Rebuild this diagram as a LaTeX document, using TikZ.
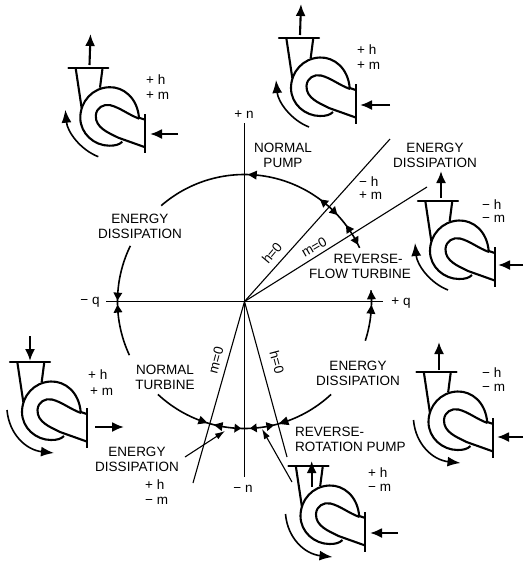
\documentclass[tikz,border=0pt]{standalone}
\usepackage{fontspec}
\setmainfont{Liberation Sans}
\usetikzlibrary{arrows.meta}
\tikzset{
  x=1pt,y=-1pt,
  lab/.style={inner sep=0pt,align=center,font=\fontsize{13.5}{15}\selectfont},
  sgn/.style={inner sep=0pt,anchor=west,font=\fontsize{13.5}{15}\selectfont},
  thinline/.style={line width=1.1pt},
  wheel/.style={line width=1.6pt},
  heavy/.style={line width=2.1pt},
  flowarrow/.style={line width=2.1pt,-{Latex[length=12pt,width=10pt]}},
  turnarrow/.style={line width=1.6pt,-{Latex[length=13pt,width=10pt]}},
  pointer/.style={line width=1.1pt,-{Latex[length=10pt,width=6.5pt]}},
  pump/.pic={
    \draw[heavy,line cap=round] (-20,0) -- (20,0);
    \draw[heavy] (-12.7,0) -- (-6.7,40);
    \draw[heavy] (14.3,0) -- (11.7,20);
    \draw[heavy,line join=round] (56.7,52) -- (50.7,50)
      .. controls (49,30) and (35,19) .. (21,19.5)
      .. controls (4,20) and (-8,34) .. (-8,50)
      .. controls (-8,66) and (6,78) .. (21,78)
      .. controls (27,78) and (31,77) .. (34,74);
    \draw[heavy] (56.7,79.5) -- (30,70)
      .. controls (20,65) and (7,60) .. (7.5,48)
      .. controls (8,40) and (15,36) .. (22,37.5)
      .. controls (32,40) and (40,47) .. (51,51);
    \draw[heavy] (56.7,46.3) -- (56.7,85.7);
  },
  uparc/.pic={
    \draw[turnarrow] (10,89) .. controls (-8,82) and (-21,64) .. (-23,42);
  },
  downarc/.pic={
    \draw[turnarrow] (-23,48) .. controls (-21,72) and (-4,88) .. (24,91);
  }
}
\newcommand{\archead}[2]{% base angle, tip angle
  \fill (#2:127) -- (#1:131.5) -- (#1:122.5) -- cycle;}
\begin{document}
\begin{tikzpicture}
\useasboundingbox (0,0) rectangle (523,563);
% ---- axes and sector lines
\coordinate (O) at (244.5,301.5);
\coordinate (nt) at (244.5,123); \coordinate (nb) at (244.5,477);
\coordinate (ql) at (106,301.5); \coordinate (qr) at (383,301.5);
\coordinate (hu) at (390,139); \coordinate (mu) at (427,187);
\coordinate (hd) at (287,457); \coordinate (md) at (193,483);
\draw[thinline] (nt) -- (nb);
\draw[thinline] (ql) -- (qr);
\draw[thinline] (hd) -- (O) -- (hu);
\draw[thinline] (md) -- (O) -- (mu);
% ---- circle
\begin{scope}[shift={(O)}]
\draw[wheel] plot[domain=-90:-131,samples=40] (\x:127);
\draw[wheel] plot[domain=-154:-205,samples=40] (\x:127);
\draw[wheel] plot[domain=133:47,samples=60] (\x:127);
\draw[wheel] plot[domain=18:-5,samples=20] (\x:127);
\draw[wheel] plot[domain=-90:-25,samples=50] (\x:127);
\archead{-84.5}{-88.5}
\archead{-50}{-53.5}
\archead{-46.5}{-43}
\archead{-33.5}{-37}
\archead{-30}{-26.5}
\archead{-1}{-5}
\archead{5.5}{1.5}
\archead{184}{180.5}
\archead{175}{178.5}
\archead{111}{107}
\archead{100}{104}
\archead{94.5}{91.5}
\archead{84.5}{87.5}
\archead{80}{76.5}
\archead{70}{74.5}
\end{scope}
% ---- labels on the diagram
\node[lab] (lpn) at (244,115) {+ n};
\node[lab] (lmn) at (243,489) {− n};
\node[lab] (lmq) at (90,302) {− q};
\node[lab] (lpq) at (401,303) {+ q};
\node[lab] (normalpump) at (283,155) {NORMAL\\PUMP};
\node[lab] (ed1) at (435,155) {ENERGY\\DISSIPATION};
\node[lab] (ed2) at (140,226) {ENERGY\\DISSIPATION};
\node[lab] (ed3) at (358,373) {ENERGY\\DISSIPATION};
\node[lab] (ed4) at (137,459) {ENERGY\\DISSIPATION};
\node[lab] (rft) at (360,266) {\hspace*{1.2em}REVERSE-\\FLOW TURBINE};
\node[lab] (nturb) at (165,377) {NORMAL\\TURBINE};
\node[lab,align=left,anchor=north west] (rrp) at (295,427) {REVERSE-\\ROTATION PUMP};
\node[lab,rotate=50] (h1) at (272,253) {h=0};
\node[lab,rotate=30] (m1) at (314,247) {m=0};
\node[lab,rotate=75] (m2) at (216,360) {m=0};
\node[lab,rotate=-75] (h2) at (277,362) {h=0};
\node[sgn] (s1a) at (359,182) {− h};
\node[sgn] (s1b) at (359,196) {+ m};
\node[sgn] (s2a) at (145,485) {+ h};
\node[sgn] (s2b) at (145,501) {− m};
% ---- pointers
\coordinate (ptA) at (185,457); \coordinate (ptAe) at (225,431);
\coordinate (ptB) at (292,482); \coordinate (ptBe) at (262,429);
\draw[pointer] (ptA) -- (ptAe);
\draw[pointer] (ptB) -- (ptBe);
% ---- pump 1 top left
\pic (p1) at (88.3,67.7) {pump};
\pic (r1) at (88.3,67.7) {uparc};
\coordinate (a1) at (89.5,65); \coordinate (a1e) at (90.5,34);
\coordinate (b1) at (178,134); \coordinate (b1e) at (150,134);
\draw[flowarrow] (a1) -- (a1e);
\draw[flowarrow] (b1) -- (b1e);
\node[sgn] (s3a) at (146,80) {+ h};
\node[sgn] (s3b) at (146,96) {+ m};
% ---- pump 2 top middle
\pic (p2) at (299,38) {pump};
\pic (r2) at (299,38) {uparc};
\coordinate (a2) at (300,35); \coordinate (a2e) at (301,4);
\coordinate (b2) at (390,105); \coordinate (b2e) at (360,105);
\draw[flowarrow] (a2) -- (a2e);
\draw[flowarrow] (b2) -- (b2e);
\node[sgn] (s4a) at (357,50) {+ h};
\node[sgn] (s4b) at (357,66) {+ m};
% ---- pump 3 right upper
\pic (p3) at (438,201) {pump};
\pic (r3) at (438,201) {uparc};
\coordinate (a3) at (441,198); \coordinate (a3e) at (441,171);
\coordinate (b3) at (523,265); \coordinate (b3e) at (498,265);
\draw[flowarrow] (a3) -- (a3e);
\draw[flowarrow] (b3) -- (b3e);
\node[sgn] (s5a) at (482,205) {− h};
\node[sgn] (s5b) at (482,219) {− m};
% ---- pump 4 right lower
\pic (p4) at (436.5,372) {pump};
\pic (r4) at (436.5,372) {downarc};
\coordinate (a4) at (439,370); \coordinate (a4e) at (439,342);
\coordinate (b4) at (523,437); \coordinate (b4e) at (497,437);
\draw[flowarrow] (a4) -- (a4e);
\draw[flowarrow] (b4) -- (b4e);
\node[sgn] (s6a) at (482,373) {− h};
\node[sgn] (s6b) at (482,388) {− m};
% ---- pump 5 bottom middle
\pic (p5) at (308.5,466) {pump};
\pic (r5) at (308.5,466) {downarc};
\coordinate (a5) at (311.7,487); \coordinate (a5e) at (311.7,461);
\coordinate (b5) at (398,533); \coordinate (b5e) at (370,533);
\draw[flowarrow] (a5) -- (a5e);
\draw[flowarrow] (b5) -- (b5e);
\node[sgn] (s7a) at (368,473) {+ h};
\node[sgn] (s7b) at (368,488) {− m};
% ---- pump 6 bottom left
\pic (p6) at (30,362) {pump};
\pic (r6) at (30,362) {downarc};
\coordinate (a6) at (30,336); \coordinate (a6e) at (30,361);
\coordinate (b6) at (95,427); \coordinate (b6e) at (124,427);
\draw[flowarrow] (a6) -- (a6e);
\draw[flowarrow] (b6) -- (b6e);
\node[sgn] (s8a) at (88,375) {+ h};
\node[sgn] (s8b) at (90,392) {+ m};
\end{tikzpicture}
\end{document}
